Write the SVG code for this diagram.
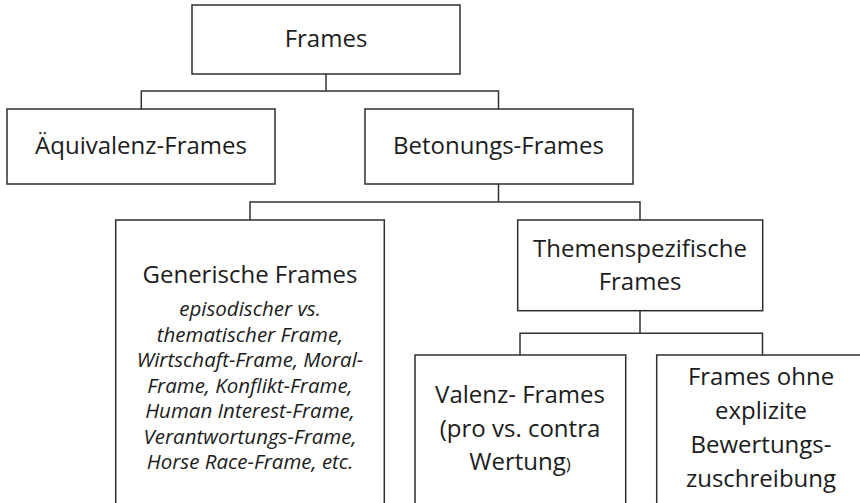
<svg xmlns="http://www.w3.org/2000/svg" width="860" height="503" viewBox="0 0 860 503">
  <style>
    .box { fill: #ffffff; stroke: #2e2e2e; stroke-width: 1.5; }
    .conn { fill: none; stroke: #333333; stroke-width: 1.5; }
    .lbl { font-family: "Open Sans", "Liberation Sans", sans-serif; font-size: 24px; fill: #1c1c1c; text-anchor: middle; }
    .ex { font-style: italic; font-size: 20.5px; }
  </style>
  <rect width="860" height="503" fill="#ffffff"/>

  <!-- tree connectors (elbow lines) -->
  <g id="connectors" class="conn">
    <path d="M326 74 V91 H141.3 V109 M326 91 H498.5 V109"/>
    <path d="M498.5 184 V202 H250 V220 M498.5 202 H640 V220"/>
    <path d="M640 310.7 V333.3 H520 V355 M640 333.3 H762.5 V355"/>
  </g>

  <g id="frames">
    <rect class="box" x="192" y="5" width="268" height="69"/>
    <text class="lbl" x="326" y="46.5">Frames</text>
  </g>

  <g id="aequivalenz-frames">
    <rect class="box" x="7" y="109" width="268" height="75"/>
    <text class="lbl" x="141" y="153.5">Äquivalenz-Frames</text>
  </g>

  <g id="betonungs-frames">
    <rect class="box" x="365" y="109" width="268" height="75"/>
    <text class="lbl" x="498.5" y="154">Betonungs-Frames</text>
  </g>

  <g id="generische-frames">
    <rect class="box" x="115.7" y="220" width="268.6" height="300"/>
    <text class="lbl" x="250" y="283">Generische Frames</text>
    <text class="lbl ex" x="250" y="316">episodischer vs.</text>
    <text class="lbl ex" x="250" y="341.5">thematischer Frame,</text>
    <text class="lbl ex" x="250" y="367">Wirtschaft-Frame, Moral-</text>
    <text class="lbl ex" x="250" y="392.5">Frame, Konflikt-Frame,</text>
    <text class="lbl ex" x="250" y="418">Human Interest-Frame,</text>
    <text class="lbl ex" x="250" y="443.5">Verantwortungs-Frame,</text>
    <text class="lbl ex" x="250" y="469">Horse Race-Frame, etc.</text>
  </g>

  <g id="themenspezifische-frames">
    <rect class="box" x="517.7" y="220" width="245" height="90.7"/>
    <text class="lbl" x="640" y="256.7">Themenspezifische</text>
    <text class="lbl" x="640" y="290">Frames</text>
  </g>

  <g id="valenz-frames">
    <rect class="box" x="415" y="355" width="210.7" height="200"/>
    <text class="lbl" x="520" y="403.3">Valenz- Frames</text>
    <text class="lbl" x="520" y="437">(pro vs. contra</text>
    <text class="lbl" x="520" y="470">Wertung<tspan font-size="17px">)</tspan></text>
  </g>

  <g id="frames-ohne-bewertung">
    <rect class="box" x="656.7" y="355" width="210" height="200"/>
    <text class="lbl" x="761" y="385.3">Frames ohne</text>
    <text class="lbl" x="761" y="419">explizite</text>
    <text class="lbl" x="761" y="452.7">Bewertungs-</text>
    <text class="lbl" x="761" y="486.5">zuschreibung</text>
  </g>
</svg>
